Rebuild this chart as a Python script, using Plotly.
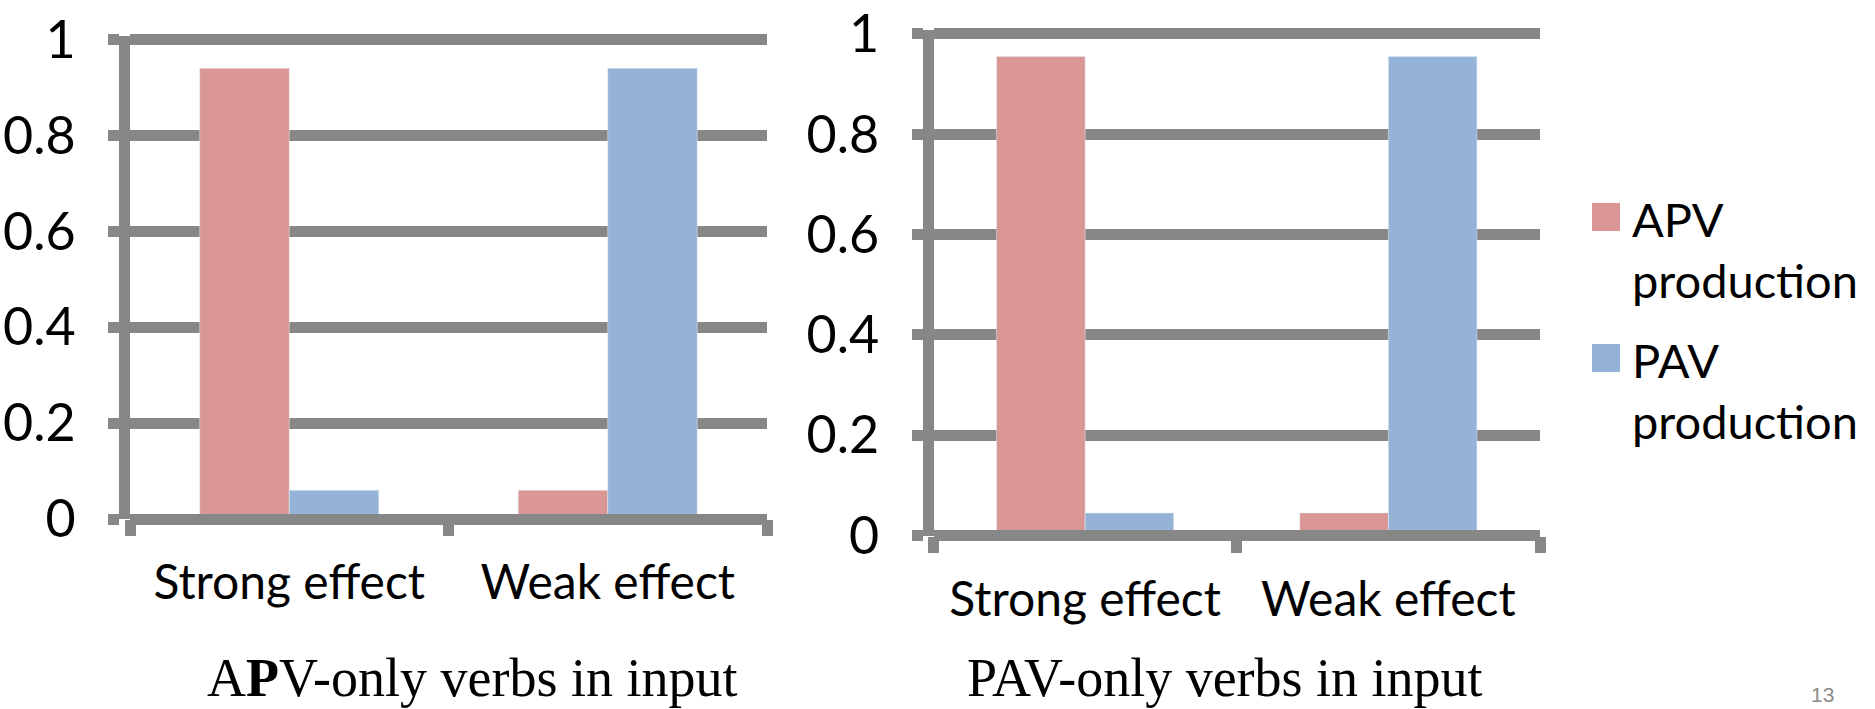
import plotly.graph_objects as go

# ---- data ----
categories = ["Strong effect", "Weak effect"]
series_names = ["APV production", "PAV production"]
apv_input_apv_prod = [0.94, 0.06]
apv_input_pav_prod = [0.06, 0.94]
pav_input_apv_prod = [0.955, 0.045]
pav_input_pav_prod = [0.045, 0.955]
y_tickvals = [0, 0.2, 0.4, 0.6, 0.8, 1]
y_ticktext = ["0", "0.2", "0.4", "0.6", "0.8", "1"]

W, H = 1875, 709
RED = "#D99694"
BLUE = "#95B3D7"
GRAY = "#878787"
LW = 11
YMAX = 1.008

def px_x(p):
    return p / W

def px_y(p):
    return (H - p) / H

def ydomain(zero_px, one_px):
    scale = zero_px - one_px
    top_px = zero_px - YMAX * scale
    return [px_y(zero_px), px_y(top_px)]

fig = go.Figure()

bw_left = 0.281
bw_right = 0.292
fig.add_trace(go.Bar(x=categories, y=apv_input_apv_prod, name=series_names[0], marker_color=RED,
                     width=bw_left, offset=-bw_left, xaxis="x", yaxis="y", showlegend=False))
fig.add_trace(go.Bar(x=categories, y=apv_input_pav_prod, name=series_names[1], marker_color=BLUE,
                     width=bw_left, offset=0, xaxis="x", yaxis="y", showlegend=False))
fig.add_trace(go.Bar(x=categories, y=pav_input_apv_prod, name=series_names[0], marker_color=RED,
                     width=bw_right, offset=-bw_right, xaxis="x2", yaxis="y2", showlegend=False))
fig.add_trace(go.Bar(x=categories, y=pav_input_pav_prod, name=series_names[1], marker_color=BLUE,
                     width=bw_right, offset=0, xaxis="x2", yaxis="y2", showlegend=False))

xfont = dict(family="Lato", size=48, color="black")
yfont = dict(family="Lato", size=52, color="black")

xcommon = dict(type="category", range=[-0.5, 1.5], tickson="boundaries", ticks="outside",
               ticklen=16, tickwidth=LW, tickcolor=GRAY, showline=False, showgrid=False,
               zeroline=False, tickfont=xfont, ticklabelstandoff=31, fixedrange=True,
               automargin=False)
ycommon = dict(range=[0, YMAX], tickmode="array", tickvals=y_tickvals, ticktext=y_ticktext,
               showgrid=True, gridwidth=LW, gridcolor=GRAY, zeroline=True, zerolinewidth=LW,
               zerolinecolor=GRAY, showline=True, linewidth=LW, linecolor=GRAY,
               ticks="outside", ticklen=11, tickwidth=LW, tickcolor=GRAY,
               tickfont=yfont, ticklabelstandoff=22, fixedrange=True, automargin=False)

fig.update_layout(
    width=W, height=H,
    margin=dict(l=0, r=0, t=0, b=0, autoexpand=False),
    paper_bgcolor="white", plot_bgcolor="white",
    barmode="group",
    showlegend=False,
    xaxis=dict(domain=[px_x(130), px_x(767)], anchor="y", **xcommon),
    yaxis=dict(domain=ydomain(519, 39.5), anchor="x", **ycommon),
    xaxis2=dict(domain=[px_x(933.5), px_x(1540)], anchor="y2", **xcommon),
    yaxis2=dict(domain=ydomain(535.5, 34), anchor="x2", **ycommon),
)

try:
    fig.update_layout(yaxis_zerolinelayer="above traces", yaxis2_zerolinelayer="above traces")
except Exception:
    pass

# legend drawn manually (large squares as in the original)
legend_items = [(series_names[0], RED, 203), (series_names[1], BLUE, 344)]
for name, col, top in legend_items:
    fig.add_shape(type="rect", xref="paper", yref="paper",
                  x0=px_x(1592), x1=px_x(1620), y0=px_y(top + 28), y1=px_y(top),
                  fillcolor=col, line_width=0)
    first, second = name.split(" ")
    fig.add_annotation(text=first + "<br>" + second, xref="paper", yref="paper",
                       x=px_x(1630), y=px_y(top - 14), xanchor="left", yanchor="top",
                       align="left", showarrow=False,
                       font=dict(family="Lato", size=47, color="black"))

title_font = dict(family="Liberation Serif", size=54, color="black")
fig.add_annotation(text="A<b>P</b>V-only verbs in input", xref="paper", yref="paper",
                   x=px_x(473), y=px_y(678), xanchor="center", yanchor="middle",
                   showarrow=False, font=title_font)
fig.add_annotation(text="PAV-only verbs in input", xref="paper", yref="paper",
                   x=px_x(1225), y=px_y(678), xanchor="center", yanchor="middle",
                   showarrow=False, font=title_font)
fig.add_annotation(text="13", xref="paper", yref="paper",
                   x=px_x(1822), y=px_y(694), xanchor="center", yanchor="middle",
                   showarrow=False, font=dict(family="Liberation Sans", size=21, color="#8C8C8C"))

fig.write_html("out.html",
               config={"displayModeBar": False, "staticPlot": True},
               post_script="document.body.style.margin='0';document.body.style.overflow='hidden';")
